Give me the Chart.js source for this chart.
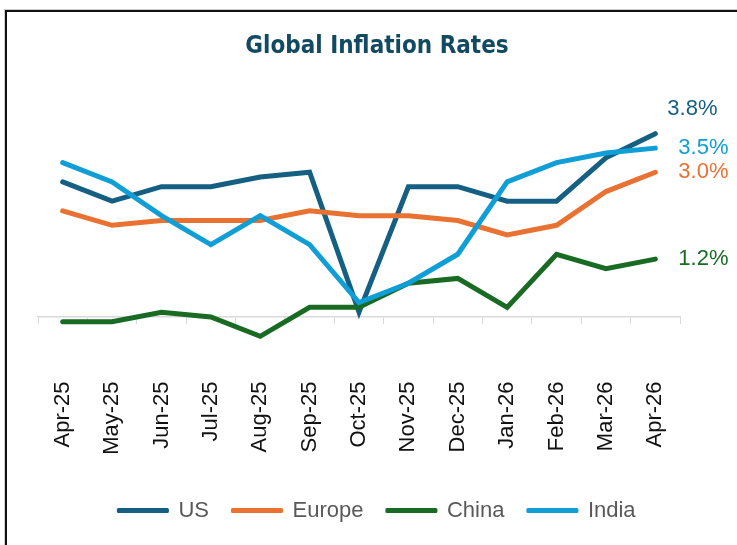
<!DOCTYPE html>
<html>
<head>
<meta charset="utf-8">
<script src="https://cdn.jsdelivr.net/npm/chart.js@4.4.1/dist/chart.umd.min.js"></script>
<style>
  html, body { margin: 0; padding: 0; background: #fff; }
  #wrap { position: relative; width: 737px; height: 545px; }
  #frame {
    position: absolute; left: 4px; top: 9px; right: -10px; bottom: -10px;
    border-left: 1px solid #cfcfcf; border-top: 1px solid #cfcfcf;
  }
  #frame div {
    position: absolute; left: 0; top: 0; right: 0; bottom: 0;
    border-left: 2px solid #111; border-top: 2px solid #111;
  }
  canvas { position: absolute; left: 0; top: 0; }
</style>
</head>
<body>
<div id="wrap">
  <div id="frame"><div></div></div>
  <canvas id="chart" width="737" height="545"></canvas>
</div>
<script>
const months = ['Apr-25', 'May-25', 'Jun-25', 'Jul-25', 'Aug-25', 'Sep-25', 'Oct-25',
    'Nov-25', 'Dec-25', 'Jan-26', 'Feb-26', 'Mar-26', 'Apr-26'];
const usRates = [2.8, 2.4, 2.7, 2.7, 2.9, 3.0, 0.1, 2.7, 2.7, 2.4, 2.4, 3.3, 3.8];
const europeRates = [2.2, 1.9, 2.0, 2.0, 2.0, 2.2, 2.1, 2.1, 2.0, 1.7, 1.9, 2.6, 3.0];
const chinaRates = [-0.1, -0.1, 0.1, 0.0, -0.4, 0.2, 0.2, 0.7, 0.8, 0.2, 1.3, 1.0, 1.2];
const indiaRates = [3.2, 2.8, 2.1, 1.5, 2.1, 1.5, 0.3, 0.7, 1.3, 2.8, 3.2, 3.4, 3.5];

const seriesNames = ['US', 'Europe', 'China', 'India'];
const seriesColors = ['#156082', '#E97132', '#196B24', '#0F9ED5'];

// end labels next to the last point: [dx, dy]
const endLabelOffsets = [[12, -25], [23, 0], [23, 0], [23, 0]];

const tickFont = '"Liberation Sans", Arial, sans-serif';

function makeDataset(i, values) {
    return {
        label: seriesNames[i],
        data: values,
        borderColor: seriesColors[i],
        backgroundColor: seriesColors[i],
        borderWidth: 5,
        borderCapStyle: 'round',
        pointRadius: 0,
        pointHoverRadius: 0,
        tension: 0,
        clip: false,
        order: 4 - i, // later series drawn on top
    };
}

const endLabels = {
    id: 'endLabels',
    afterDatasetsDraw(chart) {
        const ctx = chart.ctx;
        ctx.save();
        ctx.font = '22px ' + tickFont;
        ctx.textAlign = 'left';
        ctx.textBaseline = 'middle';
        chart.data.datasets.forEach((ds, i) => {
            const meta = chart.getDatasetMeta(i);
            const last = meta.data[meta.data.length - 1];
            const v = ds.data[ds.data.length - 1];
            ctx.fillStyle = seriesColors[i];
            ctx.fillText(v.toFixed(1) + '%', last.x + endLabelOffsets[i][0], last.y + endLabelOffsets[i][1]);
        });
        ctx.restore();
    }
};

new Chart(document.getElementById('chart'), {
    type: 'line',
    data: {
        labels: months,
        datasets: [
            makeDataset(0, usRates),
            makeDataset(1, europeRates),
            makeDataset(2, chinaRates),
            makeDataset(3, indiaRates),
        ],
    },
    options: {
        responsive: false,
        animation: false,
        layout: { padding: { left: 38, right: 21, top: 0, bottom: 13.5 } },
        scales: {
            x: {
                offset: true,
                grid: {
                    offset: true,
                    drawOnChartArea: false,
                    drawTicks: true,
                    tickLength: 7,
                    color: '#d9d9d9',
                },
                border: { display: true, color: '#d9d9d9', width: 1.5 },
                ticks: {
                    autoSkip: false,
                    minRotation: 90,
                    maxRotation: 90,
                    padding: 57.5,
                    color: '#111',
                    font: { family: tickFont, size: 22 },
                },
                afterFit(scale) {
                    scale.height = 159;
                    scale.paddingLeft = 0;
                    scale.paddingRight = 0;
                },
            },
            y: {
                position: 'right',
                min: 0,
                max: 4,
                grid: { display: false },
                border: { display: false },
                ticks: { display: false },
                afterFit(scale) { scale.width = 36; },
            },
        },
        plugins: {
            title: {
                display: true,
                text: 'Global Inflation Rates',
                color: '#124a62',
                font: { family: '"Liberation Sans Narrow", "DejaVu Sans Condensed", sans-serif', size: 24, weight: 'bold', lineHeight: 1.2 },
                padding: { top: 32.6, bottom: 62.6 },
            },
            legend: {
                position: 'bottom',
                labels: {
                    boxWidth: 49,
                    boxHeight: 2,
                    padding: 23.5,
                    color: '#595959',
                    font: { family: tickFont, size: 22 },
                    generateLabels(chart) {
                        return seriesNames.map((name, i) => ({
                            text: name,
                            fillStyle: seriesColors[i],
                            strokeStyle: seriesColors[i],
                            lineWidth: 3,
                            lineJoin: 'round',
                            lineCap: 'round',
                            fontColor: '#595959',
                            hidden: false,
                            datasetIndex: i,
                        }));
                    },
                },
            },
            tooltip: { enabled: false },
        },
    },
    plugins: [endLabels],
});
</script>
</body>
</html>
